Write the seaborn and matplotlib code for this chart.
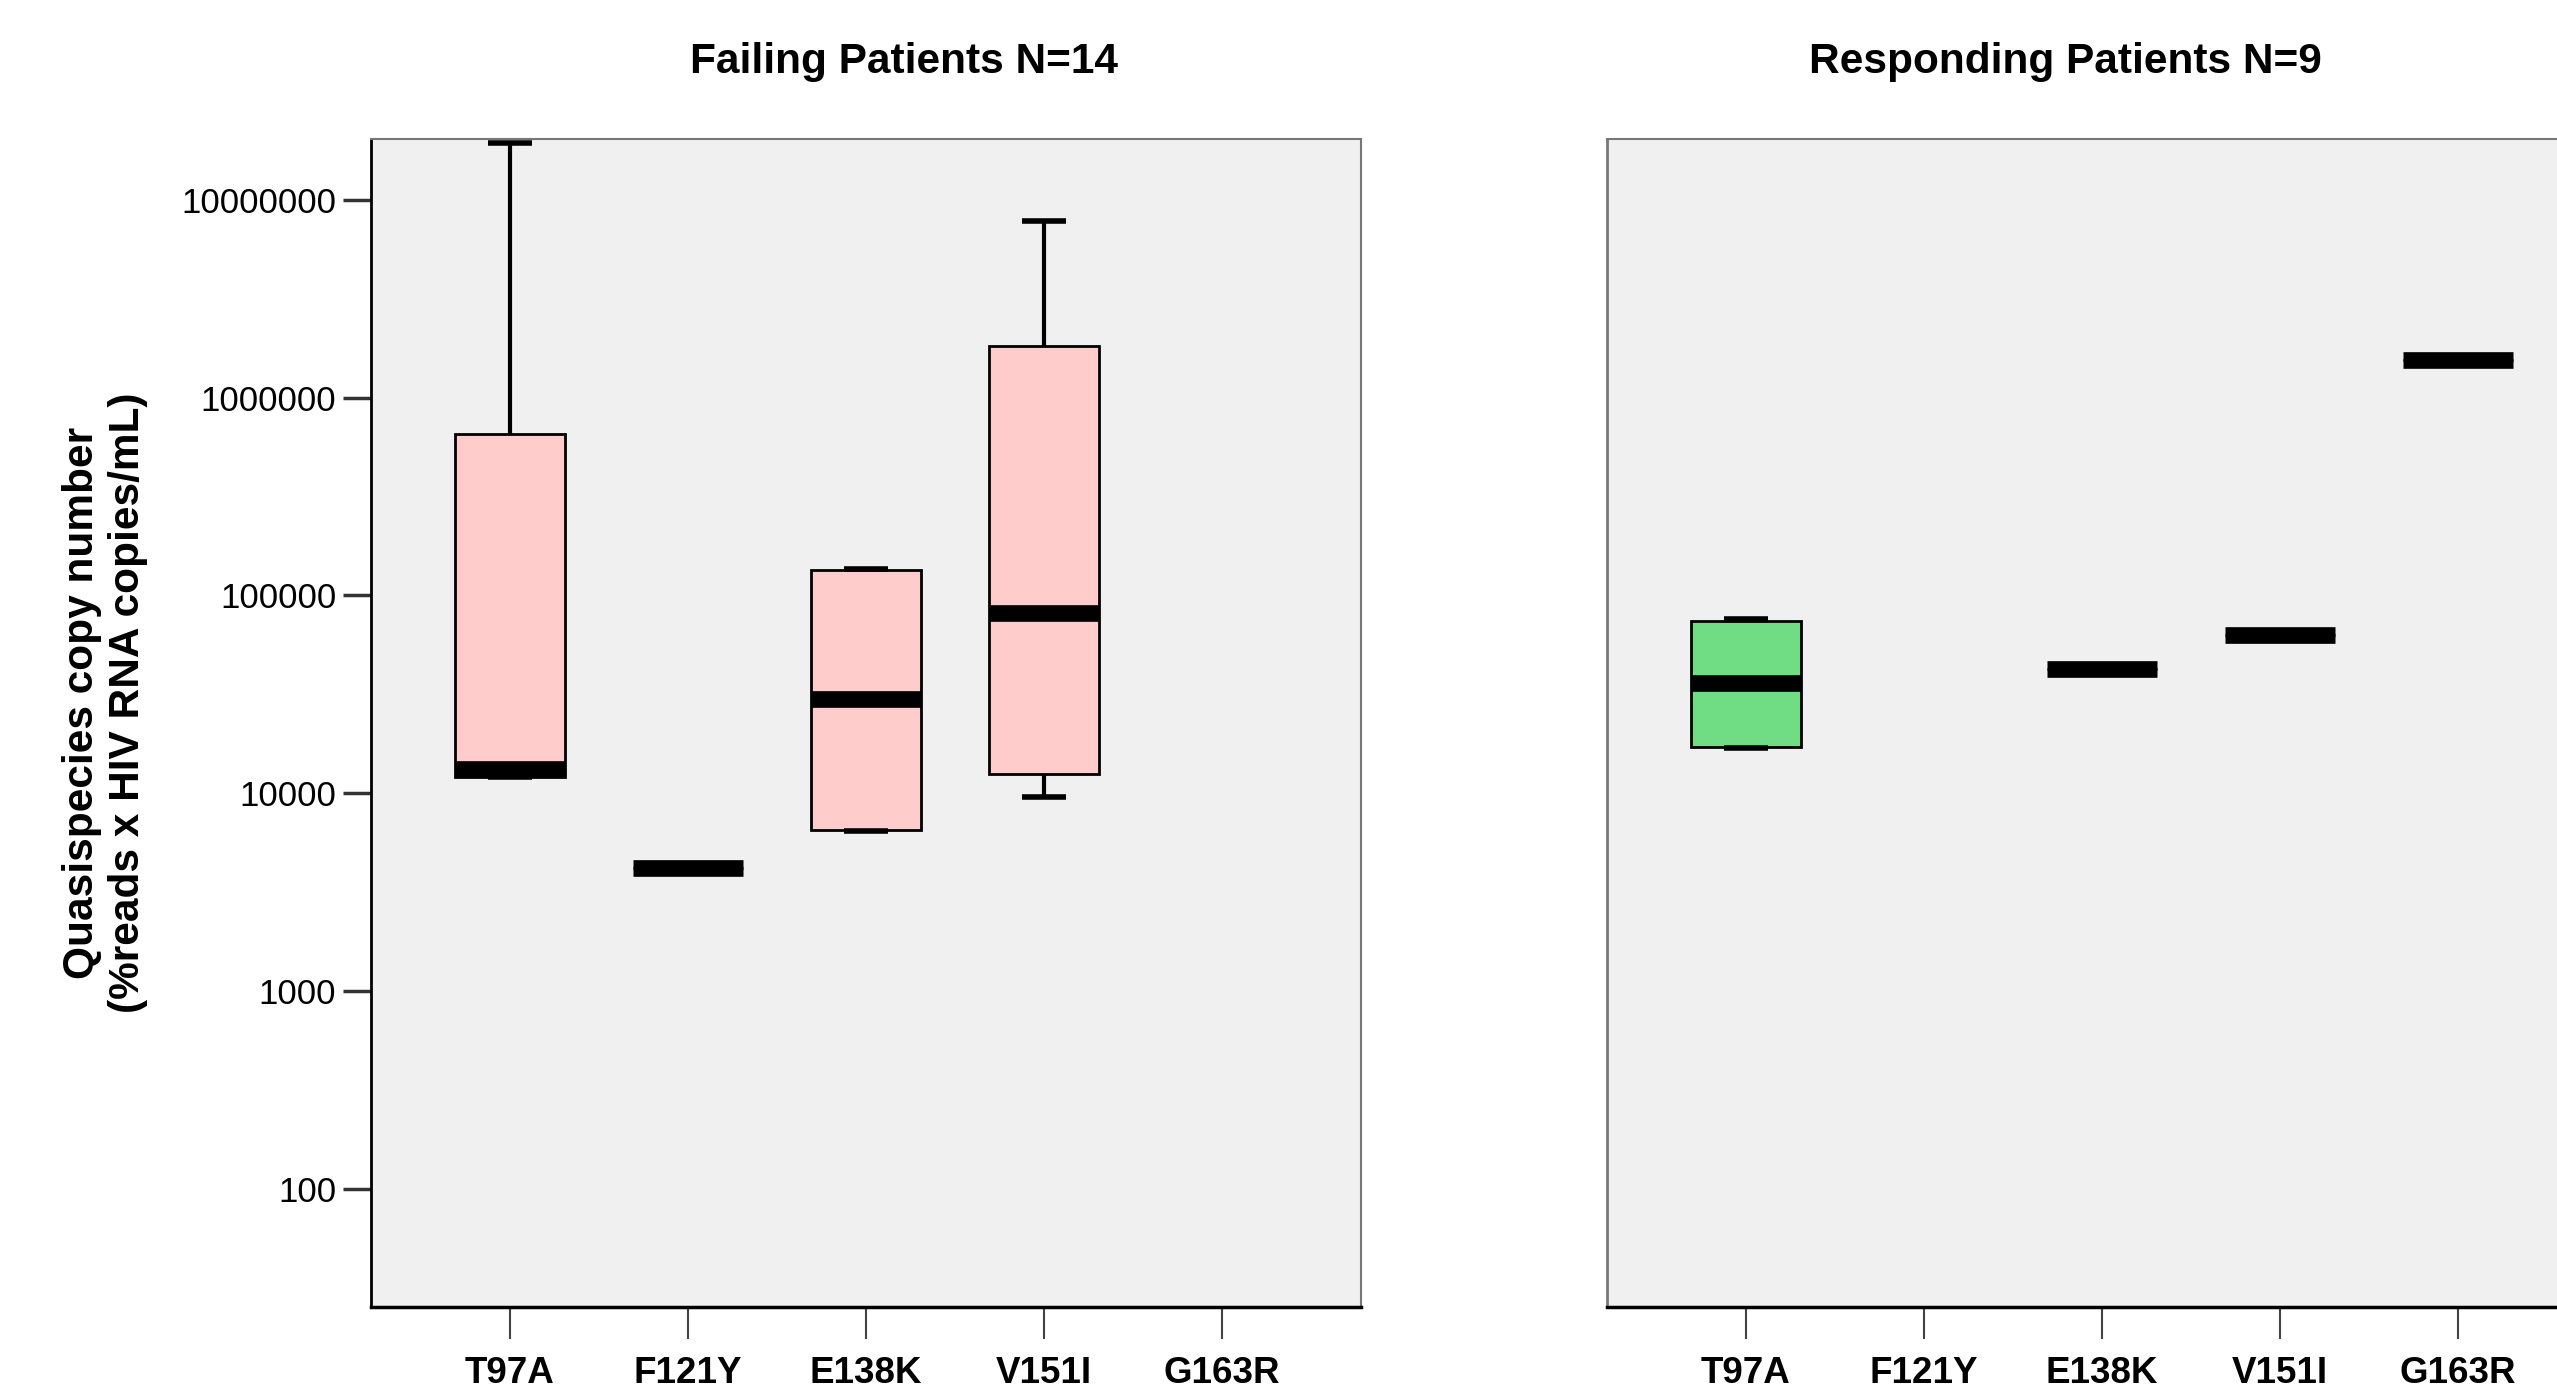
import matplotlib
matplotlib.use('Agg')
import matplotlib.pyplot as plt
import seaborn as sns
import pandas as pd
from matplotlib.ticker import NullLocator

mutations = ['T97A', 'F121Y', 'E138K', 'V151I', 'G163R']

# min, q1, median, q3, max (single value = one bar only)
failing_t97a = [12100, 12100, 13300, 656000, 19500000]
failing_f121y = [4200]
failing_e138k = [6450, 6530, 30000, 134600, 136000]
failing_v151i = [9550, 12500, 81100, 1830000, 7850000]
failing_g163r = []

responding_t97a = [16900, 17200, 35900, 74000, 76000]
responding_f121y = []
responding_e138k = [42300]
responding_v151i = [63200]
responding_g163r = [1560000]

y_ticks = [100, 1000, 10000, 100000, 1000000, 10000000]
y_ticklabels = ['100', '1000', '10000', '100000', '1000000', '10000000']

failing_title = 'Failing Patients N=14'
responding_title = 'Responding Patients N=9'
y_label = 'Quasispecies copy number\n(%reads x HIV RNA copies/mL)'

FONT = ['Liberation Sans', 'DejaVu Sans']


def to_frame(groups):
    rows = []
    for mut, vals in zip(mutations, groups):
        for v in vals:
            rows.append({'mutation': mut, 'copies': float(v)})
    return pd.DataFrame(rows)


def draw_panel(ax, df, fill, left_axis):
    ax.set_facecolor('#F0F0F0')
    sns.boxplot(data=df, x='mutation', y='copies', order=mutations, ax=ax,
                color=fill, saturation=1, width=0.62, linecolor='black',
                linewidth=2, whis=(0, 100), showfliers=False, log_scale=True,
                capwidths=0.25,
                medianprops=dict(linewidth=12, color='black', solid_capstyle='butt'),
                whiskerprops=dict(linewidth=3, color='black'),
                capprops=dict(linewidth=4, color='black', solid_capstyle='butt'))
    ax.set_xlim(-0.78, 4.78)
    ax.set_ylim(10 ** 1.402, 10 ** 7.307)
    ax.set_xlabel('')
    ax.set_ylabel('')
    ax.yaxis.set_minor_locator(NullLocator())
    ax.set_xticks(range(len(mutations)))
    ax.set_xticklabels(mutations, fontsize=26.5, fontweight='bold', family=FONT)
    ax.tick_params(axis='x', length=23, width=1.5, color='#444444', pad=12)
    for side in ['top', 'right']:
        ax.spines[side].set_color('#777777')
        ax.spines[side].set_linewidth(1.5)
    ax.spines['bottom'].set_color('black')
    ax.spines['bottom'].set_linewidth(2.5)
    ax.set_yticks(y_ticks)
    if left_axis:
        ax.set_yticklabels(y_ticklabels, fontsize=25, family=FONT)
        ax.tick_params(axis='y', length=20, width=2.5, color='#333333', pad=5)
        ax.spines['left'].set_color('black')
        ax.spines['left'].set_linewidth(2)
    else:
        ax.tick_params(axis='y', left=False, labelleft=False)
        ax.spines['left'].set_color('#777777')
        ax.spines['left'].set_linewidth(2)


fig = plt.figure(figsize=(25.57, 13.94), dpi=100)
ax1 = fig.add_axes([0.1451, 0.0624, 0.3870, 0.8377])
ax2 = fig.add_axes([0.6285, 0.0624, 0.3870, 0.8377])

failing = to_frame([failing_t97a, failing_f121y, failing_e138k, failing_v151i, failing_g163r])
responding = to_frame([responding_t97a, responding_f121y, responding_e138k,
                       responding_v151i, responding_g163r])

draw_panel(ax1, failing, '#FFCCCC', True)
draw_panel(ax2, responding, '#70DC84', False)

fig.text(0.3535, 0.9478, failing_title, ha='center', va='baseline',
         fontsize=30.5, fontweight='bold', family=FONT)
fig.text(0.8079, 0.9478, responding_title, ha='center', va='baseline',
         fontsize=30.5, fontweight='bold', family=FONT)
fig.text(0.0411, 0.4957, y_label, rotation=90, ha='center', va='center',
         multialignment='center', fontsize=30.5, fontweight='bold', family=FONT)

fig.savefig('out.png', dpi=100)
